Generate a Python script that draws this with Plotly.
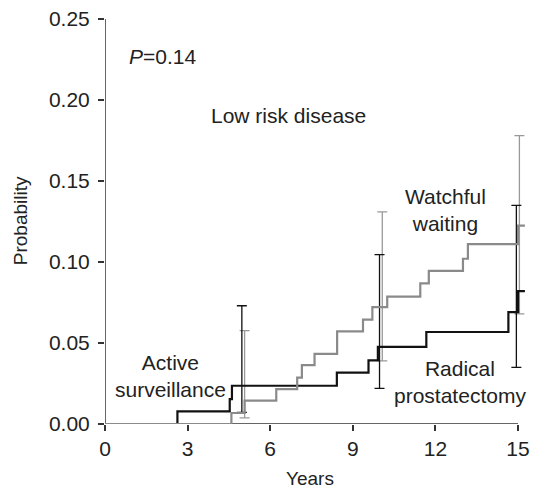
import plotly.graph_objects as go

# Step curves (cumulative probability vs years)
black_x = [0, 2.63, 4.53, 4.61, 8.42, 9.57, 9.91, 11.67, 14.65, 15.0, 15.25]
black_y = [0, 0.0078, 0.0154, 0.0236, 0.0317, 0.0393, 0.0476, 0.0568, 0.069, 0.082, 0.082]

gray_x = [0, 4.59, 5.07, 6.22, 6.98, 7.15, 7.61, 8.43, 9.37, 9.71, 10.25, 11.45, 11.76, 13.0, 13.18, 15.0, 15.25]
gray_y = [0, 0.0068, 0.0144, 0.0215, 0.0286, 0.0364, 0.0433, 0.0572, 0.0644, 0.0721, 0.0786, 0.0868, 0.0945, 0.102, 0.111, 0.1225, 0.1225]

# Confidence intervals at 5, 10, 15 years
black_ci_x = [4.97, 9.97, 14.94]
black_ci_lo = [0.0072, 0.022, 0.035]
black_ci_hi = [0.073, 0.1045, 0.135]

gray_ci_x = [5.07, 10.07, 15.05]
gray_ci_lo = [0.0038, 0.039, 0.068]
gray_ci_hi = [0.0577, 0.131, 0.178]

x_ticks = [0, 3, 6, 9, 12, 15]
y_ticks = [0.00, 0.05, 0.10, 0.15, 0.20, 0.25]

BLACK = "#111111"
GRAY = "#8a8a8a"
FONT = "Liberation Sans, Arial, sans-serif"
FS = 21
TXT = "#222222"

L, R, T, B = 105, 7, 15, 68
W, H = 537, 492
PW, PH = W - L - R, H - T - B
XMAX = 15.0 * PW / 414.0

fig = go.Figure()

def ci_trace(xs, lo, hi, color, width):
    mid = [(a + b) / 2 for a, b in zip(lo, hi)]
    half = [(b - a) / 2 for a, b in zip(lo, hi)]
    return go.Scatter(
        x=xs, y=mid, mode="markers", marker=dict(size=1, opacity=0),
        error_y=dict(type="data", array=half, symmetric=True, color=color,
                     thickness=width, width=5),
        showlegend=False, hoverinfo="skip")

fig.add_trace(ci_trace(gray_ci_x, gray_ci_lo, gray_ci_hi, "#999999", 1.3))
fig.add_trace(ci_trace(black_ci_x, black_ci_lo, black_ci_hi, BLACK, 1.3))

fig.add_trace(go.Scatter(x=black_x, y=black_y, mode="lines", line=dict(shape="hv", color=BLACK, width=2.2),
                         showlegend=False, name="Radical prostatectomy"))
fig.add_trace(go.Scatter(x=gray_x, y=gray_y, mode="lines", line=dict(shape="hv", color=GRAY, width=2.2),
                         showlegend=False, name="Watchful waiting"))

# axis lines (from 0 to 15 / 0 to 0.25)
fig.add_shape(type="line", x0=0, x1=15, y0=0, y1=0, xref="x", yref="y",
              line=dict(color="#333333", width=1.5), layer="below")
fig.add_shape(type="line", x0=0, x1=0, y0=0, y1=0.25, xref="x", yref="y",
              line=dict(color="#333333", width=1.5), layer="below")

def px2x(px):
    return (px - 105.3) / 27.55

def py2y(py):
    return (423.5 - py) / 1634.0

anns = [
    ("<i>P</i>=0.14", 163.3, 53),
    ("Low risk disease", 288.5, 112),
    ("Watchful<br>waiting", 446, 208),
    ("Active<br>surveillance", 170.7, 375),
    ("Radical<br>prostatectomy", 460.5, 381),
]
for txt, px, py in anns:
    fig.add_annotation(x=px2x(px), y=py2y(py), xref="x", yref="y", text=txt, showarrow=False,
                       font=dict(family=FONT, size=FS, color=TXT), xanchor="center", yanchor="middle")

# axis titles placed by pixel position
def paper_x(px):
    return (px - L) / PW

def paper_y(py):
    return (H - B - py) / PH

fig.add_annotation(x=paper_x(310), y=paper_y(479), xref="paper", yref="paper", text="Years",
                   showarrow=False, font=dict(family=FONT, size=19, color=TXT),
                   xanchor="center", yanchor="middle")
fig.add_annotation(x=paper_x(20), y=paper_y(219), xref="paper", yref="paper", text="Probability",
                   showarrow=False, textangle=-90, font=dict(family=FONT, size=19, color=TXT),
                   xanchor="center", yanchor="middle")

fig.update_layout(
    width=W, height=H,
    margin=dict(l=L, r=R, t=T, b=B, pad=0),
    paper_bgcolor="white", plot_bgcolor="white",
    font=dict(family=FONT, size=FS, color=TXT),
    xaxis=dict(range=[0, XMAX], tickvals=x_ticks, ticktext=[str(v) for v in x_ticks],
               ticks="outside", ticklen=6, tickwidth=1.5, tickcolor="#333333",
               showline=False, showgrid=False, zeroline=False),
    yaxis=dict(range=[0, 0.25], tickvals=y_ticks, ticktext=[f"{v:.2f}" for v in y_ticks],
               ticks="outside", ticklen=6, tickwidth=1.5, tickcolor="#333333",
               showline=False, showgrid=False, zeroline=False, ticklabelstandoff=4),
)

fig.write_html("out.html", config={"displayModeBar": False},
               post_script="document.body.style.margin='0';document.body.style.padding='0';")
